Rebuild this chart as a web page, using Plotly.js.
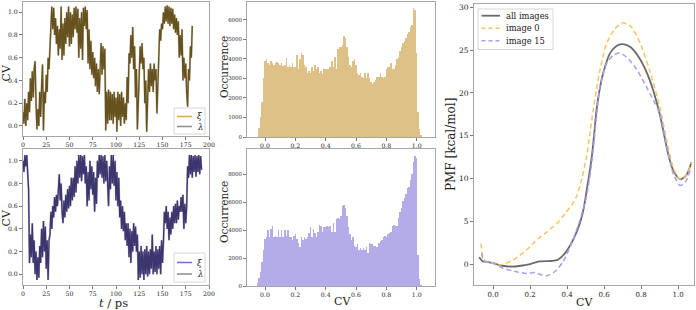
<!DOCTYPE html>
<html><head><meta charset="utf-8">
<script src="https://cdn.plot.ly/plotly-3.0.1.min.js"></script>
<style>html,body{margin:0;padding:0;background:#fff}#chart{width:696px;height:310px}</style>
</head><body><div id="chart"></div>
<script>
// ---- time series (1 ps sampling) ----
const dtPs = 1;
const xiTop = [0.12,0.02,0.24,0.0,0.2,0.05,0.3,0.12,0.42,0.22,
0.48,0.25,0.5,0.57,0.2,-0.03,0.15,0.0,0.3,0.08,
0.35,0.54,-0.04,0.3,0.2,0.45,0.3,0.6,0.5,0.65,
0.9,1.05,0.85,1.04,0.8,0.95,0.72,0.88,0.62,0.85,
0.68,1.05,0.58,0.9,0.62,0.95,0.72,1.0,0.78,1.05,
0.7,1.0,0.72,0.98,0.78,1.04,0.85,1.05,0.82,1.03,
0.6,0.95,0.68,1.0,0.58,1.04,0.88,1.05,0.85,1.02,
0.55,0.85,0.5,0.75,0.45,0.65,0.42,0.6,0.35,0.55,
0.3,0.5,0.28,0.5,0.73,0.45,0.7,0.5,0.68,-0.04,
0.3,0.02,0.32,0.05,0.3,0.05,0.28,0.02,0.3,0.08,
0.25,-0.05,0.3,0.05,0.28,0.0,0.3,0.08,0.25,0.02,
0.2,0.05,0.43,0.2,0.64,0.55,0.8,0.6,0.87,0.5,
0.7,0.25,0.5,-0.03,0.3,0.5,0.7,0.55,0.73,0.5,
0.6,0.2,0.4,-0.05,0.35,0.5,0.3,0.55,0.35,0.5,
0.3,0.55,0.4,0.5,0.11,0.4,0.7,0.85,0.75,0.9,
0.85,1.0,0.9,1.05,0.92,1.06,0.9,1.05,0.88,1.04,
0.9,1.03,0.85,0.98,0.82,0.95,0.8,0.92,0.6,0.8,
0.62,0.85,0.4,0.6,0.42,0.55,0.3,0.17,0.5,0.4,
0.7,0.6,0.88];
const lambdaTop = xiTop;
const xiBottom = [1.0,0.9,1.05,0.95,1.05,0.85,0.75,0.1,0.35,0.15,
0.45,0.1,0.3,0.0,0.2,-0.05,0.15,-0.03,0.25,0.1,
0.4,0.15,0.47,0.2,0.42,0.05,0.3,-0.05,0.3,0.35,
0.55,0.4,0.6,0.5,0.68,0.55,0.7,0.6,0.8,0.88,
0.65,0.8,0.55,0.45,0.65,0.5,0.7,0.55,0.75,0.58,
0.78,0.6,0.85,0.65,0.85,0.68,0.95,0.72,1.0,0.8,
1.05,0.85,1.05,0.82,1.04,0.88,1.05,0.8,0.95,0.6,
0.9,0.65,1.0,0.75,0.95,0.7,0.9,0.55,0.85,0.62,
1.0,0.85,1.05,0.88,1.05,0.85,1.04,0.8,1.05,0.82,
1.0,0.7,0.6,0.95,0.75,1.05,0.8,1.05,0.78,1.0,
0.65,0.9,0.6,0.85,0.5,0.65,0.4,0.6,0.38,0.55,
0.3,0.45,0.25,0.45,0.15,0.4,0.1,0.38,0.2,0.45,
0.25,0.42,0.2,0.35,-0.05,0.2,-0.03,0.25,0.0,0.2,
-0.05,0.22,0.0,0.25,-0.02,0.2,0.0,0.22,0.05,0.35,
0.0,0.2,0.02,0.25,0.0,0.22,0.05,0.25,0.0,0.3,
0.1,0.28,0.55,0.45,0.6,0.4,0.55,0.3,0.5,0.35,
0.55,0.4,0.6,0.45,0.62,0.45,0.65,0.48,0.6,0.55,
0.68,0.55,0.7,0.4,0.62,0.45,0.6,0.95,0.85,1.05,
0.88,1.05,0.85,1.04,0.9,1.05,0.86,1.04,0.9,1.05,
0.88,1.04,0.92];
const lambdaBottom = xiBottom;

// ---- histograms (bin width 0.01) ----
const binWidth = 0.01;
const histTopStart = -0.04;
const histTop = [450,1000,1800,3000,3900,4000,3800,3700,3900,3800,
3700,3800,3850,3800,3700,3800,3650,3700,4050,3600,
3700,3600,3800,3600,3600,4200,3500,4000,4300,4200,
3700,3600,3300,3400,3300,3600,3400,3700,3500,3600,
3300,3400,3250,3500,3500,3500,3500,3600,3900,3600,
4100,3500,4500,4600,4600,4700,5200,5100,4600,4100,
3700,3600,3900,4000,3700,3300,3200,3300,3100,3000,
3300,3000,3300,3000,2800,2700,2800,2900,3100,3100,
3300,3100,3000,3100,3500,3600,3600,3800,3500,3500,
3700,4000,4100,4400,4600,4800,4900,5100,5300,5400,
5650,5750,6600,6500,4300,1300,400,100];
const histBottomStart = -0.05;
const histBottom = [200,600,1000,1700,2600,3400,3500,4000,3500,4100,
4300,3500,3600,3500,4000,3500,4000,3500,4000,3600,
4000,3500,3500,3300,3600,3700,3400,3100,2800,3500,
3300,3500,3400,3500,3800,4200,3500,4100,3800,3500,
3900,4400,4300,3900,4200,4200,4300,4200,4300,3900,
4500,3900,4800,4900,4800,5000,5700,5800,5600,5000,
4200,3700,3300,3500,2900,2800,3000,2600,2700,2600,
2700,2600,2800,2400,3100,3000,3000,2900,2900,2800,
3100,3200,3300,3500,3600,3500,3700,3800,3900,4300,
4400,4300,4300,4900,5300,5600,6100,6300,6600,7000,
7100,7600,8000,8900,9300,9200,2200,500,100];

// ---- PMF curves ----
const cvAll = [-0.075,-0.055,-0.03,0.0,0.05,0.1,0.15,0.2,0.25,0.3,0.33,0.35,0.388,0.432,0.469,0.49,0.505,0.52,0.535,0.548,0.559,0.577,0.595,0.631,0.667,0.7,0.74,0.793,0.847,0.9,0.946,0.973,1.01,1.045,1.072];
const pmfAll = [0.8,0.3,0.25,0.1,-0.2,-0.3,-0.2,0.0,0.3,0.35,0.4,0.5,1.25,2.8,4.75,6.5,8.5,10.5,12.8,15.5,18.0,20.5,22.3,24.6,25.5,25.7,25.4,24.0,21.5,17.6,12.9,11.0,9.9,10.4,11.9];
const cvImg0 = [-0.065,-0.055,-0.04,0.0,0.036,0.07,0.108,0.144,0.18,0.216,0.252,0.288,0.324,0.36,0.397,0.425,0.451,0.48,0.505,0.525,0.541,0.56,0.577,0.613,0.658,0.703,0.748,0.793,0.847,0.901,0.946,0.975,1.01,1.045,1.072];
const pmfImg0 = [2.4,0.8,0.3,0.1,-0.1,0.1,0.47,1.0,1.63,2.4,3.1,3.7,4.36,5.1,6.1,6.9,7.9,10.0,12.5,15.5,18.0,20.5,22.6,25.75,27.5,28.2,27.7,25.9,22.6,18.4,13.7,11.2,9.9,10.4,11.9];
const cvImg15 = [-0.062,-0.05,0.0,0.054,0.126,0.18,0.225,0.252,0.288,0.333,0.378,0.424,0.469,0.505,0.525,0.541,0.56,0.577,0.613,0.649,0.685,0.721,0.775,0.829,0.87,0.901,0.946,0.975,1.01,1.04,1.065];
const pmfImg15 = [1.25,0.4,0.1,-0.5,-0.9,-1.1,-1.0,-1.2,-1.36,-0.9,0.27,2.4,5.1,7.9,10.5,13.3,17.5,20.7,23.4,24.4,24.66,24.2,22.8,20.7,19.0,17.6,12.9,10.5,9.2,9.6,11.0];

// ---- legend labels ----
const tsLegendLabels = ['<i>ξ</i>', '<i>λ</i>'];
const pmfLegendLabels = ['all images', 'image 0', 'image 15'];

// ---- helpers (pixel -> paper) ----
const W = 696, H = 310;
const px = v => v / W, py = v => 1 - v / H;
const tTop = xiTop.map((_, i) => i * dtPs);
const tBottom = xiBottom.map((_, i) => i * dtPs);
const centers = (start, arr) => arr.map((_, i) => +(start + i * binWidth).toFixed(3));

const serif = 'DejaVu Serif, serif';
const tickF = s => ({family: serif, size: s, color: '#222'});
const frame = {showline: true, mirror: true, linecolor: '#a6a6a6', linewidth: 1,
  ticks: 'outside', ticklen: 3, tickcolor: '#555', tickwidth: 0.8,
  showgrid: false, zeroline: false, tickfont: tickF(6.2)};

const colXiTop = '#d4aa42', colXiBot = '#7566ee', colLambda = '#8c8c8c';
const colAll = '#6a6a6a', colImg0 = '#f3c661', colImg15 = '#a79ef3';
const topColor = '#66521e', botColor = '#3d366e';
const traces = [
  {x: tTop, y: lambdaTop, xaxis: 'x', yaxis: 'y', mode: 'lines', name: 'λ', line: {color: 'rgba(160,150,120,0.6)', width: 2}, showlegend: false},
  {x: tTop, y: xiTop, xaxis: 'x', yaxis: 'y', mode: 'lines', name: 'ξ', line: {color: topColor, width: 1.3}, showlegend: false},
  {x: tBottom, y: lambdaBottom, xaxis: 'x2', yaxis: 'y2', mode: 'lines', name: 'λ', line: {color: 'rgba(130,125,160,0.6)', width: 2}, showlegend: false},
  {x: tBottom, y: xiBottom, xaxis: 'x2', yaxis: 'y2', mode: 'lines', name: 'ξ', line: {color: botColor, width: 1.3}, showlegend: false},
  {type: 'bar', x: centers(histTopStart, histTop), y: histTop, width: binWidth, xaxis: 'x3', yaxis: 'y3', marker: {color: '#ddc186', line: {width: 0}}, showlegend: false},
  {type: 'bar', x: centers(histBottomStart, histBottom), y: histBottom, width: binWidth, xaxis: 'x4', yaxis: 'y4', marker: {color: '#b3ace9', line: {width: 0}}, showlegend: false},
  {x: cvAll, y: pmfAll, xaxis: 'x5', yaxis: 'y5', mode: 'lines', name: 'all images', line: {color: colAll, width: 1.8, shape: 'spline', smoothing: 0.7}, showlegend: false},
  {x: cvImg0, y: pmfImg0, xaxis: 'x5', yaxis: 'y5', mode: 'lines', name: 'image 0', line: {color: colImg0, width: 1.5, dash: '5px,3px', shape: 'spline', smoothing: 0.7}, showlegend: false},
  {x: cvImg15, y: pmfImg15, xaxis: 'x5', yaxis: 'y5', mode: 'lines', name: 'image 15', line: {color: colImg15, width: 1.5, dash: '5px,3px', shape: 'spline', smoothing: 0.7}, showlegend: false}
];

// ---- compact legends (box, sample lines, labels) ----
const shapes = [], annotations = [];
function legendBox(x0, y0, x1, y1) {
  shapes.push({type: 'rect', xref: 'paper', yref: 'paper', x0: px(x0), x1: px(x1), y0: py(y1), y1: py(y0),
    fillcolor: 'rgba(255,255,255,0.85)', line: {color: '#cccccc', width: 0.8}, layer: 'above'});
}
function legendItem(lx0, lx1, y, color, width, dash, label, tx, size) {
  shapes.push({type: 'line', xref: 'paper', yref: 'paper', x0: px(lx0), x1: px(lx1), y0: py(y), y1: py(y),
    line: {color: color, width: width, dash: dash || 'solid'}, layer: 'above'});
  annotations.push({text: label, xref: 'paper', yref: 'paper', x: px(tx), y: py(y), xanchor: 'left', yanchor: 'middle',
    showarrow: false, font: {family: serif, size: size, color: '#222'}});
}
legendBox(174, 108, 205, 134);
legendItem(177, 192, 116.5, colXiTop, 1.5, null, tsLegendLabels[0], 195, 8.5);
legendItem(177, 192, 126.5, colLambda, 1.5, null, tsLegendLabels[1], 195, 8.5);
legendBox(174, 253, 205, 282);
legendItem(177, 192, 262.5, colXiBot, 1.5, null, tsLegendLabels[0], 195, 8.5);
legendItem(177, 192, 274, colLambda, 1.5, null, tsLegendLabels[1], 195, 8.5);
legendBox(478, 9, 553, 49.5);
legendItem(481.5, 500, 15.7, colAll, 1.8, null, pmfLegendLabels[0], 504, 8.3);
legendItem(481.5, 500, 28.3, colImg0, 1.5, '4px,3px', pmfLegendLabels[1], 504, 8.3);
legendItem(481.5, 500, 40.7, colImg15, 1.5, '4px,3px', pmfLegendLabels[2], 504, 8.3);

const titles = [
  {text: 'CV', x: px(5.5), y: py(73), textangle: -90},
  {text: 'CV', x: px(5.5), y: py(218), textangle: -90},
  {text: '<i>t</i> / ps', x: px(113), y: py(303), font: {family: serif, size: 11.5, color: '#222'}},
  {text: 'Occurrence', x: px(224), y: py(67), textangle: -90, font: {family: serif, size: 10.5, color: '#222'}},
  {text: 'Occurrence', x: px(224), y: py(212), textangle: -90, font: {family: serif, size: 10.5, color: '#222'}},
  {text: 'CV', x: px(342), y: py(301)},
  {text: 'PMF [kcal/mol]', x: px(451), y: py(145), textangle: -90, font: {family: serif, size: 12, color: '#222'}},
  {text: 'CV', x: px(584), y: py(302)}
].map(a => Object.assign({xref: 'paper', yref: 'paper', showarrow: false, xanchor: 'center', yanchor: 'middle',
    font: {family: serif, size: 11, color: '#222'}}, a));

const tsX = {domain: [px(23), px(209)], range: [0, 200], tickvals: [0,25,50,75,100,125,150,175,200]};
const cvTicks = {tickvals: [0,0.2,0.4,0.6,0.8,1.0], ticktext: ['0.0','0.2','0.4','0.6','0.8','1.0']};

const layout = {
  width: W, height: H, margin: {l: 0, r: 0, t: 0, b: 0},
  paper_bgcolor: '#fff', plot_bgcolor: '#fff', bargap: 0, showlegend: false,
  xaxis: Object.assign({}, frame, tsX, {anchor: 'y'}),
  yaxis: Object.assign({}, frame, cvTicks, {domain: [py(136), py(2)], range: [-0.088, 1.09], anchor: 'x'}),
  xaxis2: Object.assign({}, frame, tsX, {anchor: 'y2'}),
  yaxis2: Object.assign({}, frame, cvTicks, {domain: [py(285), py(149)], range: [-0.094, 1.103], anchor: 'x2'}),
  xaxis3: Object.assign({}, frame, cvTicks, {domain: [px(247), px(435)], range: [-0.119, 1.121], anchor: 'y3'}),
  yaxis3: Object.assign({}, frame, {domain: [py(137), py(2)], range: [0, 6920], tickvals: [0,1000,2000,3000,4000,5000,6000], anchor: 'x3', tickfont: tickF(5.4)}),
  xaxis4: Object.assign({}, frame, cvTicks, {domain: [px(247), px(435)], range: [-0.119, 1.121], anchor: 'y4'}),
  yaxis4: Object.assign({}, frame, {domain: [py(286), py(149)], range: [0, 9820], tickvals: [0,2000,4000,6000,8000], anchor: 'x4', tickfont: tickF(5.4)}),
  xaxis5: Object.assign({}, frame, cvTicks, {domain: [px(474), px(694)], range: [-0.103, 1.086], anchor: 'y5', tickfont: tickF(7)}),
  yaxis5: Object.assign({}, frame, {domain: [py(285), py(4)], range: [-2.45, 30.4], tickvals: [0,5,10,15,20,25,30], anchor: 'x5', tickfont: tickF(7.5)}),
  shapes: shapes,
  annotations: titles.concat(annotations)
};

Plotly.newPlot('chart', traces, layout, {displayModeBar: false, staticPlot: true});
</script></body></html>
